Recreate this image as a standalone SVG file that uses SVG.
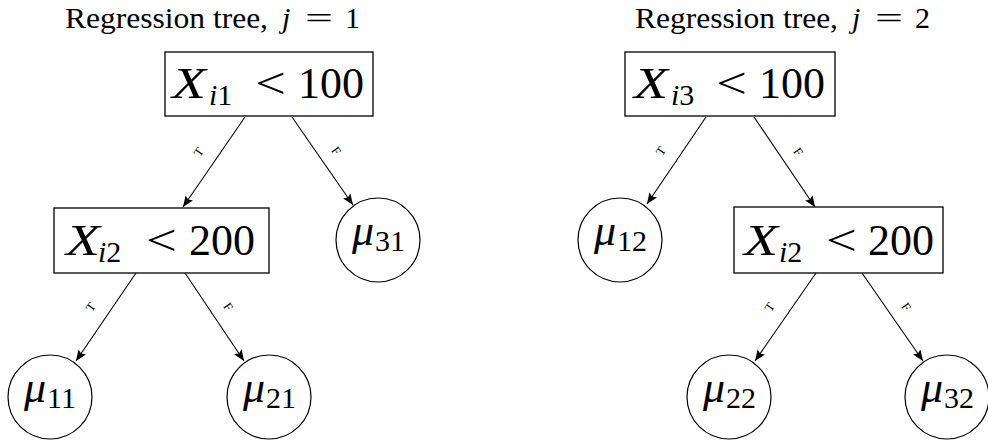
<svg xmlns="http://www.w3.org/2000/svg" width="988" height="444" viewBox="0 0 988 444" font-family="'Liberation Serif', 'Times New Roman', Tinos, 'DejaVu Serif', 'Noto Serif', serif">
<style>
text{font-family:'Liberation Serif','Times New Roman',Tinos,'DejaVu Serif','Noto Serif',serif;fill:#000}
.box{fill:#fff;stroke:#000;stroke-width:1.3}
.leaf{fill:#fff;stroke:#000;stroke-width:1.2}
.title{font-size:30px}
.m{font-size:44px}
.s{font-size:30px}
.i{font-style:italic}
.lab{font-size:12.5px;text-anchor:middle;dominant-baseline:central}
.edge{stroke:#000;stroke-width:1.1;fill:none;marker-end:url(#ah)}
</style>
<defs>
<marker id="ah" markerUnits="userSpaceOnUse" markerWidth="12" markerHeight="10" refX="11" refY="4.5" orient="auto">
<path d="M0,0 L11,4.5 L0,9 L2,4.5 z" fill="#000"/>
</marker>
</defs>

<g id="title1">
<text class="title" x="65" y="28" textLength="203" lengthAdjust="spacingAndGlyphs">Regression tree,</text>
<text class="title i" x="282" y="28">j</text>
<text class="title" x="305" y="28" textLength="28" lengthAdjust="spacingAndGlyphs">=</text>
<text class="title" x="345" y="28">1</text>
</g>
<g id="title2">
<text class="title" x="635" y="28" textLength="203" lengthAdjust="spacingAndGlyphs">Regression tree,</text>
<text class="title i" x="852" y="28">j</text>
<text class="title" x="875" y="28" textLength="28" lengthAdjust="spacingAndGlyphs">=</text>
<text class="title" x="915" y="28">2</text>
</g>

<g id="edges">
<line class="edge" x1="245" y1="117" x2="183" y2="207"/>
<line class="edge" x1="292" y1="117" x2="353" y2="205"/>
<line class="edge" x1="136" y1="273" x2="76" y2="361"/>
<line class="edge" x1="185" y1="273" x2="244" y2="361"/>
<line class="edge" x1="706" y1="117" x2="647" y2="204"/>
<line class="edge" x1="754" y1="117" x2="815" y2="207"/>
<line class="edge" x1="816" y1="273" x2="755" y2="361"/>
<line class="edge" x1="862" y1="273" x2="923" y2="361"/>
<text class="lab" transform="translate(199,152) rotate(-55)">T</text>
<text class="lab" transform="translate(336,151) rotate(56)">F</text>
<text class="lab" transform="translate(91,307) rotate(-55)">T</text>
<text class="lab" transform="translate(228,307) rotate(56)">F</text>
<text class="lab" transform="translate(661,151) rotate(-56)">T</text>
<text class="lab" transform="translate(798,152) rotate(56)">F</text>
<text class="lab" transform="translate(770,307) rotate(-55)">T</text>
<text class="lab" transform="translate(906,307) rotate(56)">F</text>
</g>

<g id="n1_root">
<rect class="box" x="165" y="52" width="208" height="64"/>
<text class="m i" x="172" y="98" textLength="34" lengthAdjust="spacingAndGlyphs">X</text>
<text class="s" x="209" y="105"><tspan class="i">i</tspan>1</text>
<text class="m" x="255" y="98" textLength="31" lengthAdjust="spacingAndGlyphs">&lt;</text>
<text class="m" x="298" y="98">100</text>
</g>
<g id="n1_split">
<rect class="box" x="54" y="208" width="215" height="65"/>
<text class="m i" x="66" y="255" textLength="34" lengthAdjust="spacingAndGlyphs">X</text>
<text class="s" x="98" y="262"><tspan class="i">i</tspan>2</text>
<text class="m" x="146" y="255" textLength="31" lengthAdjust="spacingAndGlyphs">&lt;</text>
<text class="m" x="189" y="255">200</text>
</g>
<g id="n1_mu31">
<circle class="leaf" cx="378" cy="240" r="42"/>
<text class="m i" x="352" y="245">μ</text>
<text class="s" x="375" y="251">31</text>
</g>
<g id="n1_mu11">
<circle class="leaf" cx="50" cy="397" r="42"/>
<text class="m i" x="24" y="402">μ</text>
<text class="s" x="47" y="408">11</text>
</g>
<g id="n1_mu21">
<circle class="leaf" cx="269" cy="397" r="42"/>
<text class="m i" x="243" y="402">μ</text>
<text class="s" x="266" y="408">21</text>
</g>

<g id="n2_root">
<rect class="box" x="625" y="52" width="210" height="64"/>
<text class="m i" x="634" y="98" textLength="34" lengthAdjust="spacingAndGlyphs">X</text>
<text class="s" x="671" y="105"><tspan class="i">i</tspan>3</text>
<text class="m" x="716" y="98" textLength="31" lengthAdjust="spacingAndGlyphs">&lt;</text>
<text class="m" x="759" y="98">100</text>
</g>
<g id="n2_split">
<rect class="box" x="734" y="207" width="209" height="66"/>
<text class="m i" x="744" y="255" textLength="34" lengthAdjust="spacingAndGlyphs">X</text>
<text class="s" x="779" y="262"><tspan class="i">i</tspan>2</text>
<text class="m" x="826" y="255" textLength="31" lengthAdjust="spacingAndGlyphs">&lt;</text>
<text class="m" x="868" y="255">200</text>
</g>
<g id="n2_mu12">
<circle class="leaf" cx="620" cy="240" r="42"/>
<text class="m i" x="594" y="245">μ</text>
<text class="s" x="617" y="251">12</text>
</g>
<g id="n2_mu22">
<circle class="leaf" cx="729" cy="397" r="42"/>
<text class="m i" x="703" y="402">μ</text>
<text class="s" x="726" y="408">22</text>
</g>
<g id="n2_mu32">
<circle class="leaf" cx="947" cy="397" r="42"/>
<text class="m i" x="921" y="402">μ</text>
<text class="s" x="944" y="408">32</text>
</g>
</svg>
